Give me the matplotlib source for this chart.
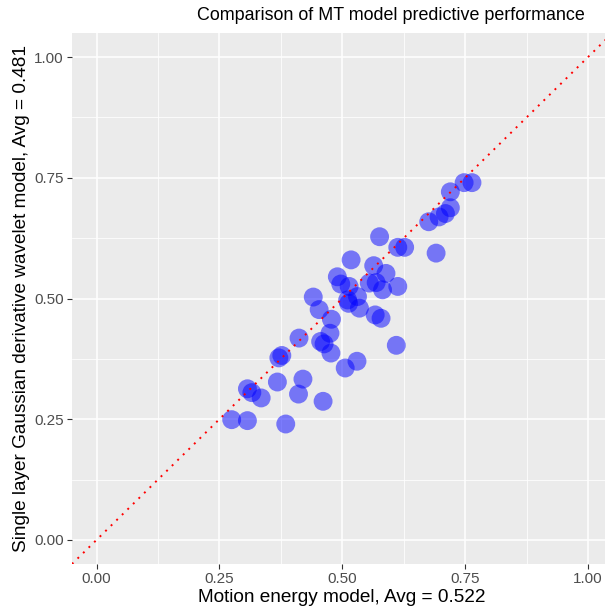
import numpy as np
import matplotlib
matplotlib.use("Agg")
import matplotlib.pyplot as plt
from matplotlib.ticker import MultipleLocator

plt.rcParams['font.family'] = ['Liberation Sans', 'DejaVu Sans']

# per-neuron prediction scores for the two MT models
motion_energy = [
    0.576, 0.613, 0.627, 0.518, 0.564, 0.589, 0.490, 0.497, 0.514, 0.555,
    0.569, 0.582, 0.613, 0.531, 0.511, 0.513, 0.535, 0.441, 0.453, 0.478,
    0.475, 0.456, 0.463, 0.477, 0.567, 0.579, 0.610, 0.412, 0.377, 0.371,
    0.530, 0.506, 0.368, 0.420, 0.411, 0.461, 0.307, 0.316, 0.335, 0.275,
    0.307, 0.385, 0.676, 0.697, 0.710, 0.720, 0.720, 0.748, 0.764, 0.691,
]
gauss_deriv = [
    0.628, 0.606, 0.606, 0.580, 0.568, 0.552, 0.545, 0.530, 0.525, 0.532,
    0.533, 0.518, 0.525, 0.504, 0.497, 0.490, 0.480, 0.503, 0.477, 0.457,
    0.428, 0.411, 0.406, 0.387, 0.466, 0.459, 0.403, 0.418, 0.382, 0.377,
    0.370, 0.356, 0.327, 0.333, 0.302, 0.287, 0.313, 0.305, 0.294, 0.249,
    0.247, 0.240, 0.659, 0.669, 0.676, 0.688, 0.721, 0.740, 0.740, 0.594,
]
ticks = [0.00, 0.25, 0.50, 0.75, 1.00]
tick_labels = ['0.00', '0.25', '0.50', '0.75', '1.00']

fig = plt.figure(figsize=(6.05, 6.12), dpi=100)
# panel runs a little past the right edge of the canvas
ax = fig.add_axes([72 / 605, 48 / 612, 540.5 / 605, 531 / 612])
ax.set_facecolor('#EBEBEB')

ax.set_xlim(-0.05, 1.05)
ax.set_ylim(-0.05, 1.05)
ax.set_xticks(ticks)
ax.set_xticklabels(tick_labels)
ax.set_yticks(ticks)
ax.set_yticklabels(tick_labels)
ax.xaxis.set_minor_locator(MultipleLocator(0.125))
ax.yaxis.set_minor_locator(MultipleLocator(0.125))
ax.grid(which='major', color='white', linewidth=1.1)
ax.grid(which='minor', color='white', linewidth=0.55)
ax.set_axisbelow(True)
for s in ax.spines.values():
    s.set_visible(False)
ax.tick_params(which='major', length=3.5, width=0.8, color='#333333',
               labelcolor='#4D4D4D', labelsize=11, pad=2.5)
ax.tick_params(which='minor', length=0)

ax.scatter(motion_energy, gauss_deriv, s=185, color='blue', alpha=0.5,
           edgecolors='none', zorder=3)
ax.plot([-0.05, 1.05], [-0.05, 1.05], color='red', linestyle=(0, (1, 3)),
        linewidth=1.4, zorder=4)

ax.set_xlabel('Motion energy model, Avg = 0.522', fontsize=13.7, labelpad=2)
ax.set_ylabel('Single layer Gaussian derivative wavelet model, Avg = 0.481',
              fontsize=13.7, labelpad=3)
fig.text(391 / 605, 1 - 15 / 612, 'Comparison of MT model predictive performance',
         ha='center', va='center', fontsize=12.9)

fig.savefig('out.png', dpi=100)
